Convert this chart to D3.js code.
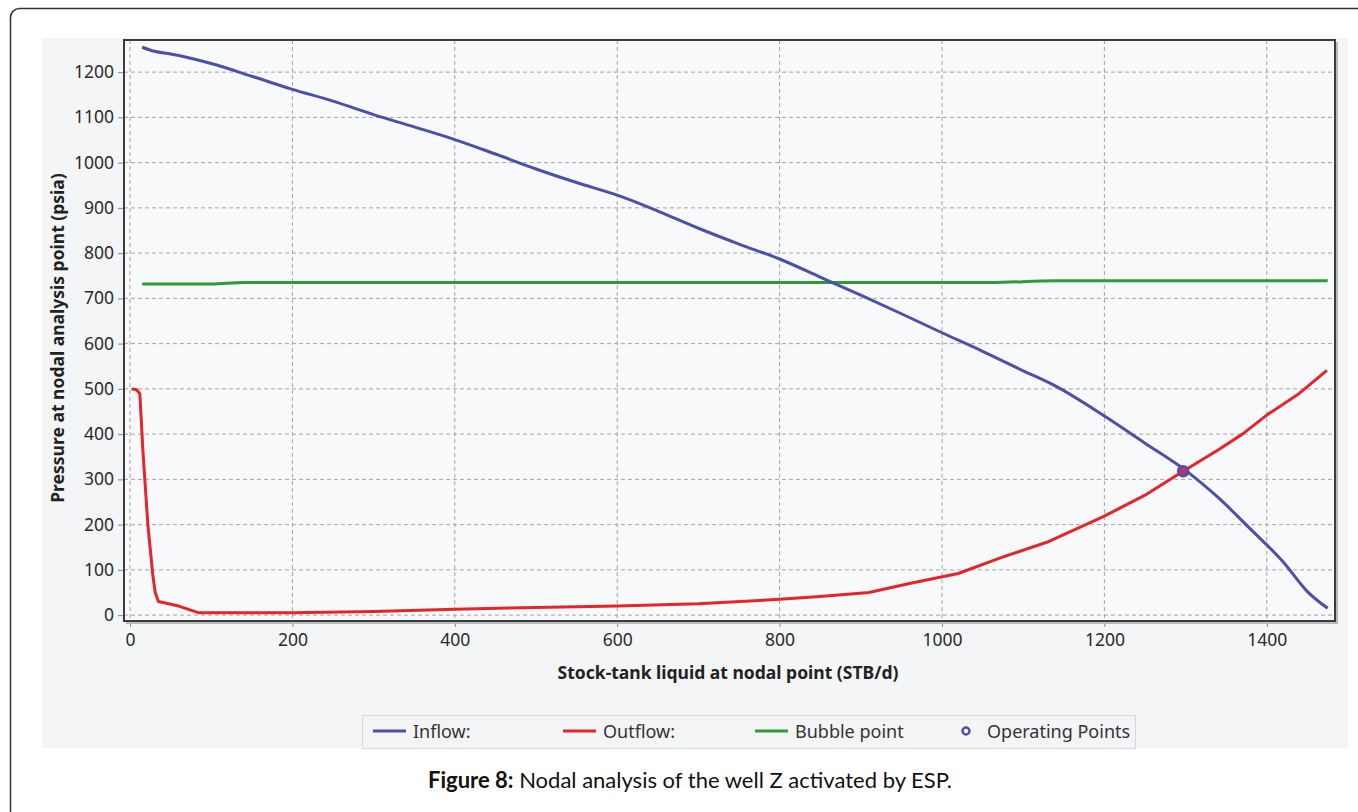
<!DOCTYPE html>
<html>
<head>
<meta charset="utf-8">
<script src="https://cdn.jsdelivr.net/npm/d3@7"></script>
<style>
  body { margin: 0; background: #fff; }
  svg { display: block; }
</style>
</head>
<body>
<script>
// chart data
var inflowQ = [15, 30, 50, 100, 150, 200, 250, 300, 350, 400, 450, 500, 550, 600, 650, 700, 750, 800, 850, 900, 950, 1000, 1050, 1100, 1140, 1200, 1250, 1300, 1340, 1380, 1420, 1450, 1475];
var inflowP = [1255, 1246, 1240, 1219, 1191, 1162, 1136, 1106, 1079, 1051, 1019, 986, 956, 928, 893, 855, 820, 787, 747, 707, 666, 624, 583, 540, 506, 440, 380, 320, 260, 190, 118, 52, 15];

var outflowQ = [2, 8, 12, 13, 16, 22, 28, 31, 35, 60, 85, 150, 200, 300, 400, 500, 600, 700, 800, 850, 910, 960, 1020, 1071, 1129, 1198, 1250, 1297, 1340, 1370, 1400, 1440, 1474];
var outflowP = [500, 498, 490, 460, 360, 200, 90, 50, 30, 20, 5, 5, 5, 8, 13, 17, 20, 25, 35, 41, 50, 70, 92, 126, 161, 217, 265, 318, 365, 400, 442, 490, 541];

var bubbleQ = [15, 100, 140, 200, 400, 600, 800, 1000, 1060, 1140, 1300, 1475];
var bubbleP = [732, 732, 735, 735, 735, 735, 735, 735, 735, 739, 739, 739];

var opQ = [1297];
var opP = [318];

var xTicks = [0, 200, 400, 600, 800, 1000, 1200, 1400];
var yTicks = [0, 100, 200, 300, 400, 500, 600, 700, 800, 900, 1000, 1100, 1200];

var legendNames = ["Inflow:", "Outflow:", "Bubble point", "Operating Points"];

var width = 1358, height = 812;
var plotLeft = 124, plotRight = 1335, plotTop = 40, plotBottom = 621;

var x = d3.scaleLinear().domain([-7.4, 1484]).range([plotLeft, plotRight]);
var y = d3.scaleLinear().domain([-13, 1271]).range([plotBottom, plotTop]);

var svg = d3.select("body").append("svg")
    .attr("width", width)
    .attr("height", height)
    .style("font-family", "'Noto Sans', 'Open Sans', sans-serif");

// outer frame (cropped on the right / bottom)
svg.append("rect")
    .attr("x", 10.5).attr("y", 8.5)
    .attr("width", 1400).attr("height", 900)
    .attr("rx", 9)
    .attr("fill", "#fff")
    .attr("stroke", "#333")
    .attr("stroke-width", 1.5);

// chart panel
svg.append("rect")
    .attr("x", 42).attr("y", 38)
    .attr("width", 1306).attr("height", 710)
    .attr("fill", "#f4f5f7");

// plot area
svg.append("rect")
    .attr("x", plotLeft).attr("y", plotTop)
    .attr("width", plotRight - plotLeft).attr("height", plotBottom - plotTop)
    .attr("fill", "#f8f9fa");

// grid
svg.append("g").selectAll("line")
    .data(xTicks)
    .enter().append("line")
    .attr("x1", function(d) { return x(d); })
    .attr("x2", function(d) { return x(d); })
    .attr("y1", plotTop).attr("y2", plotBottom)
    .attr("stroke", "#a4a4a4")
    .attr("stroke-dasharray", "4,3");

svg.append("g").selectAll("line")
    .data(yTicks)
    .enter().append("line")
    .attr("y1", function(d) { return y(d); })
    .attr("y2", function(d) { return y(d); })
    .attr("x1", plotLeft).attr("x2", plotRight)
    .attr("stroke", "#a4a4a4")
    .attr("stroke-dasharray", "4,3");

// axes
var xAxis = svg.append("g")
    .attr("transform", "translate(0," + plotBottom + ")")
    .call(d3.axisBottom(x).tickValues(xTicks).tickFormat(d3.format("d"))
        .tickSize(6).tickSizeOuter(0).tickPadding(7));
var yAxis = svg.append("g")
    .attr("transform", "translate(" + plotLeft + ",0)")
    .call(d3.axisLeft(y).tickValues(yTicks).tickFormat(d3.format("d"))
        .tickSize(6).tickSizeOuter(0).tickPadding(4));

[xAxis, yAxis].forEach(function(a) {
  a.select(".domain").remove();
  a.selectAll(".tick line").attr("stroke", "#888");
  a.selectAll(".tick text")
      .attr("fill", "#2a2a2a")
      .style("font-size", "17.5px")
      .style("font-family", "'Noto Sans', 'Open Sans', sans-serif");
});

// plot border, with a soft shadow on the bottom and right
svg.append("path")
    .attr("d", "M" + (plotLeft + 2) + "," + (plotBottom + 2) + "H" + (plotRight + 2) + "V" + (plotTop + 2))
    .attr("fill", "none")
    .attr("stroke", "#bbb")
    .attr("stroke-width", 2);
svg.append("rect")
    .attr("x", plotLeft).attr("y", plotTop)
    .attr("width", plotRight - plotLeft).attr("height", plotBottom - plotTop)
    .attr("fill", "none")
    .attr("stroke", "#3c3c3c")
    .attr("stroke-width", 2);

// axis titles
svg.append("text")
    .attr("x", 728).attr("y", 679)
    .attr("text-anchor", "middle")
    .attr("fill", "#222")
    .style("font-size", "17.5px")
    .style("font-weight", "bold")
    .text("Stock-tank liquid at nodal point (STB/d)");

svg.append("text")
    .attr("transform", "translate(64,338) rotate(-90)")
    .attr("text-anchor", "middle")
    .attr("fill", "#222")
    .style("font-size", "17.5px")
    .style("font-weight", "bold")
    .text("Pressure at nodal analysis point (psia)");

// curves
var line = d3.line()
    .x(function(d) { return x(d[0]); })
    .y(function(d) { return y(d[1]); })
    .curve(d3.curveMonotoneX);

function series(qs, ps) {
  return qs.map(function(q, i) { return [q, ps[i]]; });
}

var plot = svg.append("g");

plot.append("path")
    .datum(series(bubbleQ, bubbleP))
    .attr("d", line)
    .attr("fill", "none")
    .attr("stroke", "#2e9a38")
    .attr("stroke-width", 3);

plot.append("path")
    .datum(series(inflowQ, inflowP))
    .attr("d", line)
    .attr("fill", "none")
    .attr("stroke", "#4c50a6")
    .attr("stroke-width", 3);

plot.append("path")
    .datum(series(outflowQ, outflowP))
    .attr("d", d3.line()
        .x(function(d) { return x(d[0]); })
        .y(function(d) { return y(d[1]); })
        .curve(d3.curveLinear))
    .attr("fill", "none")
    .attr("stroke", "#e2262b")
    .attr("stroke-width", 3)
    .attr("stroke-linejoin", "round");

plot.selectAll(".op")
    .data(series(opQ, opP))
    .enter().append("circle")
    .attr("class", "op")
    .attr("cx", function(d) { return x(d[0]); })
    .attr("cy", function(d) { return y(d[1]); })
    .attr("r", 5)
    .attr("fill", "#c0306a")
    .attr("stroke", "#4c50a6")
    .attr("stroke-width", 2.5);

// legend
var legend = svg.append("g");
legend.append("rect")
    .attr("x", 362.5).attr("y", 715.5)
    .attr("width", 773).attr("height", 33)
    .attr("fill", "#f3f4f6")
    .attr("stroke", "#d8d8d8");

var legColors = ["#4c50a6", "#e2262b", "#2e9a38", "#4c50a6"];
var legX = [373, 563, 755, 960];
legendNames.forEach(function(name, i) {
  if (i < 3) {
    legend.append("line")
        .attr("x1", legX[i]).attr("x2", legX[i] + 33)
        .attr("y1", 731).attr("y2", 731)
        .attr("stroke", legColors[i])
        .attr("stroke-width", 3);
  } else {
    legend.append("circle")
        .attr("cx", legX[i] + 6).attr("cy", 731)
        .attr("r", 3.5)
        .attr("fill", "#fff")
        .attr("stroke", legColors[i])
        .attr("stroke-width", 2.5);
  }
  legend.append("text")
      .attr("x", i < 3 ? legX[i] + 40 : legX[i] + 27)
      .attr("y", 738)
      .attr("fill", "#333")
      .style("font-size", "18px")
      .text(name);
});

// caption
var cap = svg.append("text")
    .attr("x", 690).attr("y", 788)
    .attr("text-anchor", "middle")
    .attr("fill", "#111")
    .style("font-family", "Lato, 'Open Sans', sans-serif")
    .style("font-size", "22px");
cap.append("tspan").style("font-weight", "bold").text("Figure 8:");
cap.append("tspan").text(" Nodal analysis of the well Z activated by ESP.");
</script>
</body>
</html>
